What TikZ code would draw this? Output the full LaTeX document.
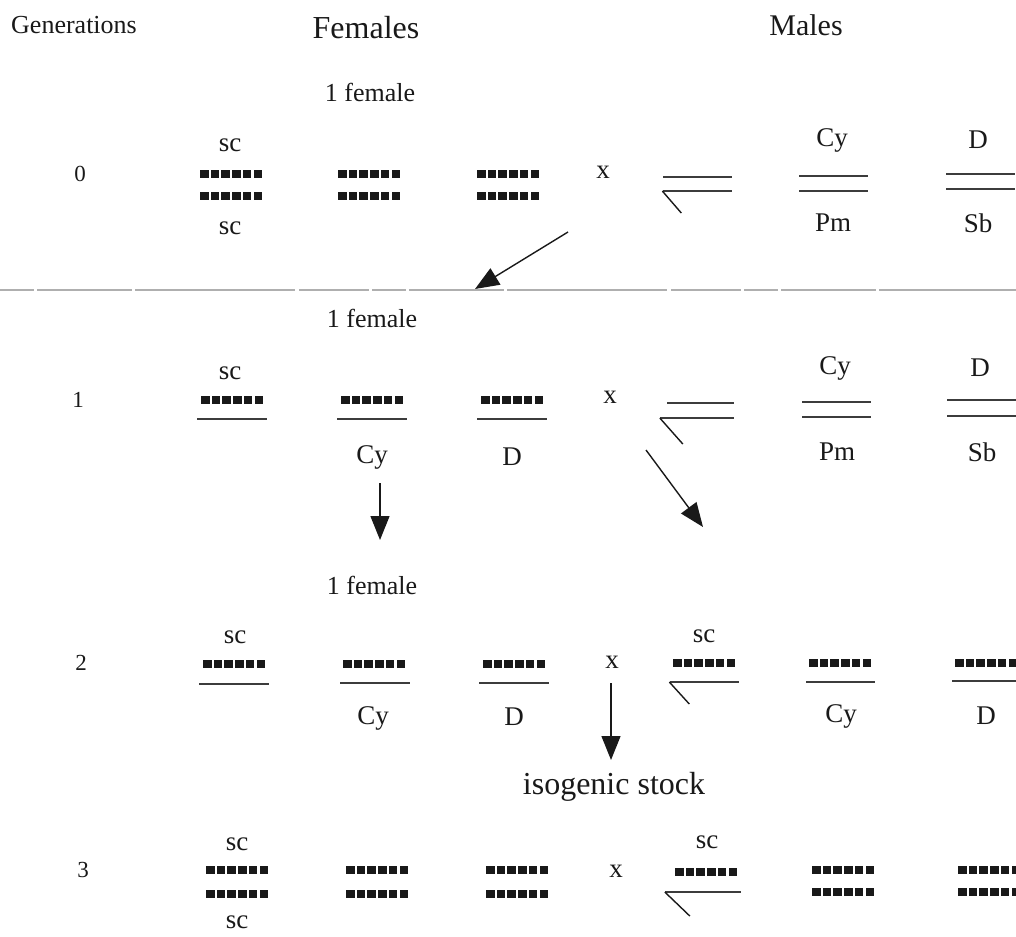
\documentclass[tikz,border=0pt]{standalone}
\usepackage{fontspec}
\setmainfont{Liberation Serif}
\usepackage{tikz}
\usetikzlibrary{arrows.meta,positioning}
\definecolor{inkblack}{RGB}{25,25,25}
\definecolor{chrgray}{RGB}{60,60,60}
\definecolor{sepgray}{RGB}{175,175,175}
\tikzstyle{lbl} = [inner sep=0pt, text=inkblack, font=\fontsize{27}{30}\selectfont]
\tikzstyle{biglbl} = [inner sep=0pt, text=inkblack, font=\fontsize{32}{36}\selectfont]
\tikzstyle{genlbl} = [inner sep=0pt, text=inkblack, font=\fontsize{23}{26}\selectfont]
\tikzstyle{markchr} = [minimum width=62pt, minimum height=8pt, inner sep=0pt, path picture={\foreach \i in {0,...,5} \fill[inkblack] ([xshift=\i*10.7pt, yshift=-4pt] path picture bounding box.west) rectangle ++(8.5pt,8pt);}]
\tikzstyle{plainchr} = [minimum width=69pt, minimum height=1.3pt, inner sep=0pt, fill=chrgray]
\tikzstyle{ychr} = [line width=1.4pt, color=inkblack]
\tikzstyle{arrow} = [line width=1.4pt, -{Triangle[length=24pt,width=19pt]}, color=inkblack]

\begin{document}
\begin{tikzpicture}[x=1pt, y=-1pt]
\useasboundingbox (0,0) rectangle (1016,936);

% headings
\node[lbl, font=\fontsize{26}{30}\selectfont] (genhead) at (74,25) {Generations};
\node[biglbl] (femhead) at (366,28) {Females};
\node[biglbl, font=\fontsize{30}{34}\selectfont] (malehead) at (806,25) {Males};

% generation 0
\node[lbl, font=\fontsize{26}{30}\selectfont] (onefem0) at (370,92) {1 female};
\node[genlbl] (gen0) at (80,174) {0};
\node[lbl] (f0sca) at (230,145) {sc};
\node[markchr] (f0xa) at (231,174) {};
\node[markchr] (f0xb) at (231,196) {};
\node[lbl] (f0scb) at (230,228) {sc};
\node[markchr] (f0aa) at (369,174) {};
\node[markchr] (f0ab) at (369,196) {};
\node[markchr] (f0ba) at (508,174) {};
\node[markchr] (f0bb) at (508,196) {};
\node[lbl] (cross0) at (603,172) {x};
\node[plainchr] (m0x) at (697,177) {};
\node[plainchr] (m0y) at (697,191) {};
\draw[ychr] (m0y.west) -- ++(19,22);
\node[lbl] (m0cy) at (832,140) {Cy};
\node[plainchr] (m0aa) at (833,176) {};
\node[plainchr] (m0ab) at (833,191) {};
\node[lbl] (m0pm) at (833,223) {Pm};
\node[lbl] (m0d) at (978,140) {D};
\node[plainchr] (m0ba) at (980,174) {};
\node[plainchr] (m0bb) at (980,189) {};
\node[lbl] (m0sb) at (978,223) {Sb};

% separation of the generations
\coordinate (sepl) at (0,290);
\coordinate (sepr) at (1016,290);
\draw[sepgray, line width=1.6pt, dash pattern=on 34pt off 3pt on 95pt off 3pt on 160pt off 4pt on 70pt off 3pt] (sepl) -- (sepr);
\coordinate (a0s) at (568,232);
\coordinate (a0e) at (475,289);
\draw[arrow] (a0s) -- (a0e);

% generation 1
\node[lbl, font=\fontsize{26}{30}\selectfont] (onefem1) at (372,318) {1 female};
\node[genlbl] (gen1) at (78,400) {1};
\node[lbl] (f1sc) at (230,373) {sc};
\node[markchr] (f1x) at (232,400) {};
\node[plainchr, minimum width=70pt] (f1xl) at (232,419) {};
\node[markchr] (f1a) at (372,400) {};
\node[plainchr, minimum width=70pt] (f1al) at (372,419) {};
\node[lbl] (f1cy) at (372,457) {Cy};
\node[markchr] (f1b) at (512,400) {};
\node[plainchr, minimum width=70pt] (f1bl) at (512,419) {};
\node[lbl] (f1d) at (512,457) {D};
\node[lbl] (cross1) at (610,397) {x};
\node[plainchr, minimum width=67pt] (m1x) at (700,403) {};
\node[plainchr, minimum width=74pt] (m1y) at (697,418) {};
\draw[ychr] (m1y.west) -- ++(23,26);
\node[lbl] (m1cy) at (835,368) {Cy};
\node[plainchr] (m1aa) at (836,402) {};
\node[plainchr] (m1ab) at (836,417) {};
\node[lbl] (m1pm) at (837,452) {Pm};
\node[lbl] (m1d) at (980,368) {D};
\node[plainchr, minimum width=70pt] (m1ba) at (982,400) {};
\node[plainchr, minimum width=70pt] (m1bb) at (982,416) {};
\node[lbl] (m1sb) at (982,452) {Sb};
\coordinate (a1s) at (380,483);
\coordinate (a1e) at (380,540);
\draw[arrow] (a1s) -- (a1e);
\coordinate (a2s) at (646,450);
\coordinate (a2e) at (703,527);
\draw[arrow] (a2s) -- (a2e);

% generation 2
\node[lbl, font=\fontsize{26}{30}\selectfont] (onefem2) at (372,585) {1 female};
\node[genlbl] (gen2) at (81,663) {2};
\node[lbl] (f2sc) at (235,637) {sc};
\node[markchr] (f2x) at (234,664) {};
\node[plainchr, minimum width=70pt] (f2xl) at (234,684) {};
\node[markchr] (f2a) at (374,664) {};
\node[plainchr, minimum width=70pt] (f2al) at (375,683) {};
\node[lbl] (f2cy) at (373,718) {Cy};
\node[markchr] (f2b) at (514,664) {};
\node[plainchr, minimum width=70pt] (f2bl) at (514,683) {};
\node[lbl] (f2d) at (514,717) {D};
\node[lbl] (cross2) at (612,662) {x};
\node[lbl] (m2sc) at (704,636) {sc};
\node[markchr] (m2x) at (704,663) {};
\node[plainchr] (m2y) at (704,682) {};
\draw[ychr] (m2y.west) -- ++(20,22);
\node[markchr] (m2a) at (840,663) {};
\node[plainchr] (m2al) at (840,682) {};
\node[lbl] (m2cy) at (841,716) {Cy};
\node[markchr] (m2b) at (986,663) {};
\node[plainchr] (m2bl) at (986,681) {};
\node[lbl] (m2d) at (986,716) {D};
\coordinate (a3s) at (611,683);
\coordinate (a3e) at (611,760);
\draw[arrow] (a3s) -- (a3e);
\node[biglbl] (isostock) at (614,787) {isogenic stock};

% generation 3
\node[genlbl] (gen3) at (83,870) {3};
\node[lbl] (f3sca) at (237,844) {sc};
\node[markchr] (f3xa) at (237,870) {};
\node[markchr] (f3xb) at (237,894) {};
\node[lbl] (f3scb) at (237,922) {sc};
\node[markchr] (f3aa) at (377,870) {};
\node[markchr] (f3ab) at (377,894) {};
\node[markchr] (f3ba) at (517,870) {};
\node[markchr] (f3bb) at (517,894) {};
\node[lbl] (cross3) at (616,871) {x};
\node[lbl] (m3sc) at (707,842) {sc};
\node[markchr] (m3x) at (706,872) {};
\node[plainchr, minimum width=76pt] (m3y) at (703,892) {};
\draw[ychr] (m3y.west) -- ++(25,24);
\node[markchr] (m3aa) at (843,870) {};
\node[markchr] (m3ab) at (843,892) {};
\node[markchr] (m3ba) at (989,870) {};
\node[markchr] (m3bb) at (989,892) {};
\end{tikzpicture}
\end{document}
